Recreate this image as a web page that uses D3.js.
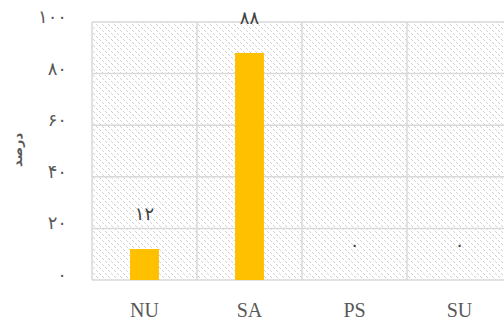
<!DOCTYPE html>
<html>
<head>
<meta charset="utf-8">
<script src="https://cdn.jsdelivr.net/npm/d3@7/dist/d3.min.js"></script>
<style>
  html, body { margin: 0; padding: 0; background: #fff; }
  svg { display: block; }
</style>
</head>
<body>
<svg id="chart" width="504" height="320"></svg>
<script>
// Share of responses per category (percent)
const categories = ["NU", "SA", "PS", "SU"];
const values = [12, 88, 0, 0];
const yTicks = [0, 20, 40, 60, 80, 100];
const yTitle = "درصد";

// Persian digits for tick and value labels
const faDigits = ["۰","۱","۲","۳","۴","۵","۶","۷","۸","۹"];
const toFa = n => String(n).replace(/\d/g, d => faDigits[+d]);

const svg = d3.select("#chart");
const plot = { left: 92, right: 512, top: 22, bottom: 280 };

const x = d3.scaleBand().domain(categories).range([plot.left, plot.right]).padding(0);
const y = d3.scaleLinear().domain([0, 100]).range([plot.bottom, plot.top]);

// Light dashed diagonal hatch used as the plot-area fill
const defs = svg.append("defs");
const pat = defs.append("pattern")
  .attr("id", "hatch").attr("patternUnits", "userSpaceOnUse")
  .attr("width", 12).attr("height", 12);
pat.append("rect").attr("width", 12).attr("height", 12).attr("fill", "#fff");
for (let r = 0; r < 12; r++) {
  for (let c = 0; c < 12; c++) {
    const k = ((c - r) % 6 + 6) % 6;
    if (k === 0 && r % 3 !== 2) {
      pat.append("rect").attr("x", c).attr("y", r).attr("width", 1).attr("height", 1).attr("fill", "#d2d2d2");
    }
  }
}

svg.append("rect")
  .attr("x", plot.left).attr("y", plot.top)
  .attr("width", plot.right - plot.left).attr("height", plot.bottom - plot.top)
  .attr("fill", "url(#hatch)");

// Horizontal gridlines
svg.append("g").selectAll("line").data(yTicks).join("line")
  .attr("x1", plot.left).attr("x2", plot.right)
  .attr("y1", d => y(d)).attr("y2", d => y(d))
  .attr("stroke", "#d9d9d9").attr("stroke-width", 1.5);

// Vertical gridlines at category boundaries
const bounds = categories.map(c => x(c)).concat([plot.right]);
svg.append("g").selectAll("line").data(bounds).join("line")
  .attr("x1", d => d).attr("x2", d => d)
  .attr("y1", plot.top).attr("y2", plot.bottom)
  .attr("stroke", "#d9d9d9").attr("stroke-width", 1.5);

// Bars
const barW = x.bandwidth() * 0.275;
svg.append("g").selectAll("rect").data(categories).join("rect")
  .attr("x", c => x(c) + x.bandwidth() / 2 - barW / 2)
  .attr("width", barW)
  .attr("y", (c, i) => y(values[i]))
  .attr("height", (c, i) => y(0) - y(values[i]))
  .attr("fill", "#ffc000");

// Value labels
svg.append("g").selectAll("text").data(categories).join("text")
  .attr("x", c => x(c) + x.bandwidth() / 2)
  .attr("y", (c, i) => y(values[i]) - 29)
  .attr("text-anchor", "middle")
  .attr("font-family", "DejaVu Sans, sans-serif")
  .attr("font-size", 18)
  .attr("fill", "#404040")
  .text((c, i) => toFa(values[i]));

// Y axis tick labels
svg.append("g").selectAll("text").data(yTicks).join("text")
  .attr("x", 67)
  .attr("y", d => y(d) + 1)
  .attr("text-anchor", "end")
  .attr("font-family", "DejaVu Sans, sans-serif")
  .attr("font-size", 18)
  .attr("fill", "#595959")
  .text(d => toFa(d));

// X axis category labels
svg.append("g").selectAll("text").data(categories).join("text")
  .attr("x", c => x(c) + x.bandwidth() / 2)
  .attr("y", 317)
  .attr("text-anchor", "middle")
  .attr("font-family", "Liberation Serif, Times New Roman, serif")
  .attr("font-size", 20)
  .attr("fill", "#595959")
  .text(c => c);

// Y axis title
svg.append("text")
  .attr("transform", "translate(22,150) rotate(-90)")
  .attr("text-anchor", "middle")
  .attr("font-family", "DejaVu Sans, sans-serif")
  .attr("font-size", 13)
  .attr("font-weight", "bold")
  .attr("fill", "#595959")
  .text(yTitle);
</script>
</body>
</html>
